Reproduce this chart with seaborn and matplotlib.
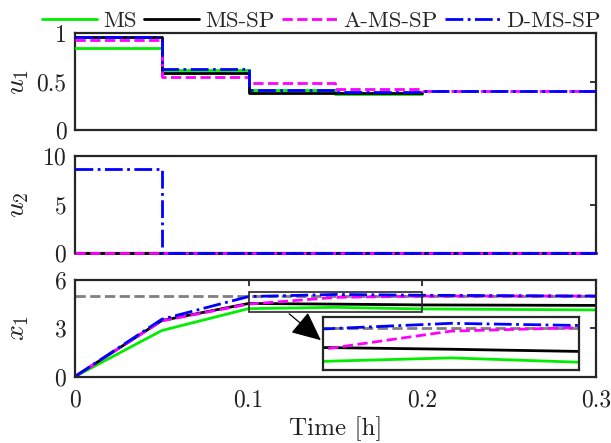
import matplotlib
matplotlib.use('Agg')
import matplotlib.pyplot as plt
import seaborn as sns

sns.set_theme(style='white')
plt.rcParams['font.family'] = 'serif'
plt.rcParams['font.serif'] = ['cmr10', 'DejaVu Serif']
plt.rcParams['mathtext.fontset'] = 'cm'
plt.rcParams['axes.unicode_minus'] = False
plt.rcParams['axes.formatter.use_mathtext'] = True

# step inputs (last value repeated for steps-post)
t_u_short = [0, 0.05, 0.1, 0.15, 0.2]
t_u_long = [0, 0.05, 0.1, 0.15, 0.2, 0.3]
u1_ms = [0.85, 0.62, 0.41, 0.37, 0.37]
u1_mssp = [0.96, 0.59, 0.38, 0.38, 0.38]
u1_ams = [0.93, 0.55, 0.48, 0.42, 0.40, 0.40]
u1_dms = [0.96, 0.63, 0.41, 0.39, 0.40, 0.40]

t_u2 = [0, 0.05, 0.3]
u2_ms = [0, 0, 0]
u2_mssp = [0, 0, 0]
u2_ams = [0, 0, 0]
u2_dms = [8.7, 0, 0]

# state trajectory
t_x = [0, 0.05, 0.1, 0.15, 0.2, 0.3]
x1_ms = [0, 2.86, 4.22, 4.30, 4.20, 4.14]
x1_mssp = [0, 3.48, 4.54, 4.50, 4.45, 4.42]
x1_ams = [0, 3.46, 4.50, 4.92, 5.00, 5.00]
x1_dms = [0, 3.56, 4.97, 5.10, 5.05, 5.00]
t_ref = [0, 0.3]
x1_ref = [5, 5]

labels = ['MS', 'MS-SP', 'A-MS-SP', 'D-MS-SP']
colors = ['#00ee00', 'black', '#ff00ff', '#0000ff']
styles = ['-', '-', '--', '-.']
LW = 2.0
SPINE = '#262626'
TXT = '#222222'

fig = plt.figure(figsize=(6.11, 4.43), dpi=100)
ax1 = fig.add_axes([0.1227, 0.707, 0.8527, 0.218])
ax2 = fig.add_axes([0.1227, 0.428, 0.8527, 0.219])
ax3 = fig.add_axes([0.1227, 0.150, 0.8527, 0.218])
axin = fig.add_axes([0.5291, 0.1648, 0.4185, 0.119])


def style_axes(ax):
    for s in ax.spines.values():
        s.set_color(SPINE)
        s.set_linewidth(1.6)
    ax.tick_params(direction='in', length=4, width=1.3, color=SPINE,
                   labelsize=17, right=True, top=True, pad=6,
                   labelcolor=TXT)


u1_sets = [(t_u_short, u1_ms), (t_u_short, u1_mssp), (t_u_long, u1_ams), (t_u_long, u1_dms)]
for (t, v), lab, c, ls in zip(u1_sets, labels, colors, styles):
    sns.lineplot(x=t, y=v, ax=ax1, color=c, linestyle=ls, lw=LW,
                 drawstyle='steps-post', label=lab, zorder=3)
ax1.set_ylim(0, 1)
ax1.set_yticks([0, 0.5, 1])
ax1.set_yticklabels(['0', '0.5', '1'])

for v, c, ls in zip([u2_ms, u2_mssp, u2_ams, u2_dms], colors, styles):
    sns.lineplot(x=t_u2, y=v, ax=ax2, color=c, linestyle=ls, lw=LW,
                 drawstyle='steps-post', zorder=3, clip_on=False)
ax2.set_ylim(0, 10)
ax2.set_yticks([0, 5, 10])

for a in (ax3, axin):
    sns.lineplot(x=t_ref, y=x1_ref, ax=a, color='#808080', linestyle='--', lw=LW)
    for v, c, ls in zip([x1_ms, x1_mssp, x1_ams, x1_dms], colors, styles):
        sns.lineplot(x=t_x, y=v, ax=a, color=c, linestyle=ls, lw=LW)
ax3.set_ylim(0, 6)
ax3.set_yticks([0, 3, 6])
ax3.set_xticks([0, 0.1, 0.2, 0.3])
ax3.set_xticklabels(['0', '0.1', '0.2', '0.3'])
ax3.set_xlabel('Time [h]', fontsize=18, color=TXT, labelpad=4)

for ax, lab in zip((ax1, ax2, ax3), ('$u_1$', '$u_2$', '$x_1$')):
    ax.set_xlim(0, 0.3)
    style_axes(ax)
    ax.set_ylabel(lab, fontsize=20, color=TXT)
    ax.yaxis.set_label_coords(-0.085, 0.5)
    lg = ax.get_legend()
    if lg is not None:
        lg.remove()
ax3.tick_params(axis='x', pad=9)
for ax in (ax1, ax2):
    ax.set_xticks([])

# zoom inset
in_x = (0.1, 0.2)
in_y = (4.02, 5.24)
axin.set_xlim(*in_x)
axin.set_ylim(*in_y)
axin.set_xticks([])
axin.set_yticks([])
axin.set_xlabel('')
axin.set_ylabel('')
for s in axin.spines.values():
    s.set_color(SPINE)
    s.set_linewidth(1.6)
ax3.add_patch(plt.Rectangle((in_x[0], in_y[0]), in_x[1] - in_x[0], in_y[1] - in_y[0],
                            fill=False, edgecolor=SPINE, lw=1.2, zorder=5))
fig.patches.append(matplotlib.patches.FancyArrowPatch(
    (287 / 611, 1 - 312 / 443), (323 / 611, 1 - 342 / 443),
    transform=fig.transFigure, arrowstyle='-|>,head_length=1.3,head_width=0.6',
    mutation_scale=14, color='black', lw=0.9))

handles, _ = ax1.get_legend_handles_labels()
fig.legend(handles[:4], labels, loc='upper center', bbox_to_anchor=(0.526, 1.022),
           ncol=4, frameon=False, fontsize=16.5, handlelength=2.4,
           handletextpad=0.25, columnspacing=0.35)

plt.savefig('out.png', dpi=100)
